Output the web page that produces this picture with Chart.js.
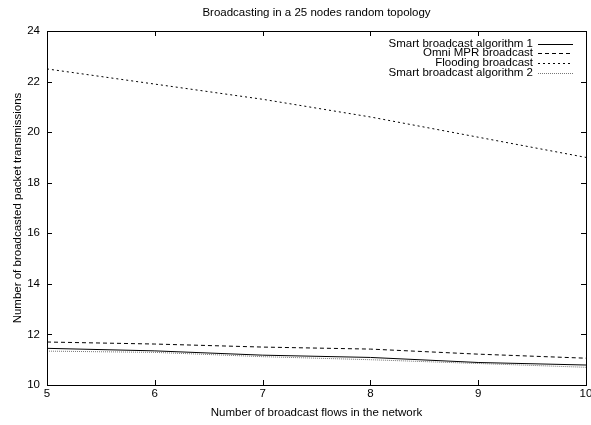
<!DOCTYPE html>
<html><head><meta charset="utf-8">
<script src="https://cdn.jsdelivr.net/npm/chart.js@4/dist/chart.umd.min.js"></script>
<style>html,body{margin:0;padding:0;background:#fff}#w{width:591px;height:425px}</style>
</head><body><div id="w"><canvas id="c" width="591" height="425"></canvas></div>
<script>
const flows = [5, 6, 7, 8, 9, 10];
const smart1 = [11.45, 11.35, 11.18, 11.09, 10.89, 10.79];
const omniMPR = [11.70, 11.62, 11.50, 11.42, 11.22, 11.06];
const flooding = [22.5, 21.9, 21.3, 20.6, 19.8, 19.0];
const smart2 = [11.34, 11.29, 11.12, 11.00, 10.85, 10.70];
const xTicks = [5, 6, 7, 8, 9, 10];
const yTicks = [10, 12, 14, 16, 18, 20, 22, 24];
const chartTitle = 'Broadcasting in a 25 nodes random topology';

const FONT = "'Liberation Sans', Arial, sans-serif";
const FS = 11.5;
const pts = a => a.map((v, i) => ({x: flows[i], y: v}));

const frame = {
  id: 'frame',
  afterDatasetsDraw(chart) {
    const {ctx, chartArea: a, scales: {x, y}} = chart;
    ctx.save();
    // title, centred over the plot area
    ctx.font = FS + 'px ' + FONT; ctx.fillStyle = '#000';
    ctx.textAlign = 'center'; ctx.textBaseline = 'middle';
    ctx.fillText(chartTitle, (a.left + a.right) / 2, 13);
    ctx.strokeStyle = '#000'; ctx.lineWidth = 1; ctx.setLineDash([]);
    ctx.strokeRect(Math.round(a.left) + 0.5, Math.round(a.top) + 0.5, Math.round(a.right - a.left), Math.round(a.bottom - a.top));
    const L = 5;
    ctx.beginPath();
    xTicks.forEach(v => {
      const px = Math.round(x.getPixelForValue(v)) + 0.5;
      ctx.moveTo(px, a.bottom); ctx.lineTo(px, a.bottom - L);
      ctx.moveTo(px, a.top); ctx.lineTo(px, a.top + L);
    });
    yTicks.forEach(v => {
      const py = Math.round(y.getPixelForValue(v)) + 0.5;
      ctx.moveTo(a.left, py); ctx.lineTo(a.left + L, py);
      ctx.moveTo(a.right, py); ctx.lineTo(a.right - L, py);
    });
    ctx.stroke();
    // legend
    ctx.font = FS + 'px ' + FONT;
    ctx.textAlign = 'right'; ctx.textBaseline = 'middle'; ctx.fillStyle = '#000';
    const textRight = a.right - 53, s0 = a.right - 48, s1 = a.right - 13;
    chart.data.datasets.forEach((d, i) => {
      const yy = a.top + 12.5 + i * 9.7;
      ctx.fillText(d.label, textRight, yy);
      ctx.strokeStyle = d.borderColor; ctx.lineWidth = d.borderWidth;
      ctx.setLineDash(d.borderDash || []);
      ctx.beginPath(); ctx.moveTo(s0, Math.round(yy) + 0.5); ctx.lineTo(s1, Math.round(yy) + 0.5); ctx.stroke();
    });
    ctx.restore();
  }
};

const mk = (label, data, color, dash) => ({label, data: pts(data), borderColor: color, borderWidth: 1, borderDash: dash, pointRadius: 0, fill: false, tension: 0});

new Chart(document.getElementById('c'), {
  type: 'line',
  data: {datasets: [
    mk('Smart broadcast algorithm 1', smart1, '#000', []),
    mk('Omni MPR broadcast', omniMPR, '#000', [4, 3]),
    mk('Flooding broadcast', flooding, '#000', [2, 3]),
    mk('Smart broadcast algorithm 2', smart2, '#777', [1, 1]),
  ]},
  options: {
    responsive: false, animation: false, devicePixelRatio: 1,
    layout: {padding: {left: 0, right: 5, top: 31, bottom: 0}},
    plugins: {
      legend: {display: false}, tooltip: {enabled: false}, title: {display: false}
    },
    scales: {
      x: {type: 'linear', min: 5, max: 10,
        grid: {display: false, drawTicks: false}, border: {display: false},
        afterBuildTicks: s => { s.ticks = xTicks.map(v => ({value: v})); },
        ticks: {color: '#000', font: {family: FONT, size: FS}, padding: 2, maxRotation: 0},
        title: {display: true, text: 'Number of broadcast flows in the network', color: '#000',
          font: {family: FONT, size: FS}, padding: {top: 2, bottom: 5}},
        afterFit: s => { s.height = 40; s.paddingLeft = 0; s.paddingRight = 0; }
      },
      y: {min: 10, max: 24,
        grid: {display: false, drawTicks: false}, border: {display: false},
        afterBuildTicks: s => { s.ticks = yTicks.map(v => ({value: v})); },
        ticks: {color: '#000', font: {family: FONT, size: FS}, padding: 7},
        title: {display: true, text: 'Number of broadcasted packet transmissions', color: '#000',
          font: {family: FONT, size: FS}, padding: {top: 11, bottom: 2}},
        afterFit: s => { s.width = 47; s.paddingTop = 0; s.paddingBottom = 0; }
      }
    }
  },
  plugins: [frame]
});
</script></body></html>
